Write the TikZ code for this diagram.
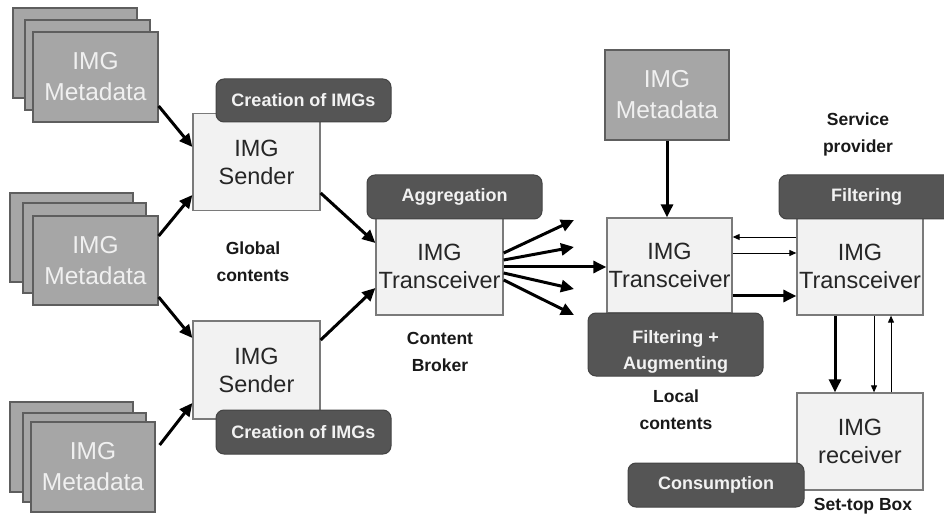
\documentclass[tikz,border=0pt]{standalone}
\usepackage{fontspec}
\setmainfont{Liberation Sans}
\usetikzlibrary{arrows.meta,calc}
\definecolor{metafill}{HTML}{A6A6A6}
\definecolor{metaline}{HTML}{5E5E5E}
\definecolor{boxfill}{HTML}{F2F2F2}
\definecolor{boxline}{HTML}{7A7A7A}
\definecolor{labfill}{HTML}{555555}
\tikzset{
  meta/.style={draw=metaline, fill=metafill, line width=1.3pt, inner sep=0pt,
    text=white!94!black, align=center, font=\fontsize{24.5}{31}\selectfont},
  imgbox/.style={draw=boxline, fill=boxfill, line width=1.3pt, inner sep=0pt,
    text=black!85, align=center, font=\fontsize{23.5}{28}\selectfont},
  lab/.style={draw=labfill!80!black, fill=labfill, rounded corners=8pt, line width=1pt,
    inner sep=0pt, text=white!95!black, align=center,
    font=\fontsize{18}{26}\selectfont\bfseries},
  note/.style={align=center, text=black!90, font=\fontsize{17.5}{27}\selectfont\bfseries},
  thick arrow/.style={line width=3pt, -{Triangle[length=13pt,width=12pt]}},
  thin arrow/.style={line width=0.9pt, -{Triangle[length=7pt,width=6pt]}},
}
\begin{document}
\begin{tikzpicture}[x=1pt,y=-1pt]
\useasboundingbox (0,0) rectangle (944,518);
\clip (0,0) rectangle (944,518);
\fill[white] (0,0) rectangle (944,518);
% metadata stacks
\node[meta, minimum width=124pt, minimum height=90pt] (m1a) at (75,53) {};
\node[meta, minimum width=125pt, minimum height=90pt] (m1b) at (87.5,65) {};
\node[meta, minimum width=125pt, minimum height=90pt] (m1c) at (95.5,77) {IMG\\Metadata};
\node[meta, minimum width=123pt, minimum height=89pt] (m2a) at (71.5,237.5) {};
\node[meta, minimum width=123pt, minimum height=90pt] (m2b) at (84.5,248) {};
\node[meta, minimum width=125pt, minimum height=89pt] (m2c) at (95.5,260.5) {IMG\\Metadata};
\node[meta, minimum width=123pt, minimum height=90pt] (m3a) at (71.5,447) {};
\node[meta, minimum width=123pt, minimum height=89pt] (m3b) at (84.5,457.5) {};
\node[meta, minimum width=124pt, minimum height=90pt] (m3c) at (93,467) {IMG\\Metadata};
\node[meta, minimum width=124pt, minimum height=90pt] (m4) at (667,95) {IMG\\Metadata};
% main boxes
\node[imgbox, minimum width=127pt, minimum height=97pt] (s1) at (256.5,162) {IMG\\Sender};
\node[imgbox, minimum width=127pt, minimum height=98pt] (s2) at (256.5,370) {IMG\\Sender};
\node[imgbox, minimum width=127pt, minimum height=97pt] (t1) at (439.5,266.5) {IMG\\Transceiver};
\node[imgbox, minimum width=125pt, minimum height=95pt] (t2) at (669.5,265.5) {IMG\\Transceiver};
\node[imgbox, minimum width=126pt, minimum height=97pt] (t3) at (860,266.5) {IMG\\Transceiver};
\node[imgbox, minimum width=126pt, minimum height=97pt] (rx) at (860,441.5) {IMG\\receiver};
% labels
\node[lab, minimum width=175pt, minimum height=43pt] (c1) at (303.5,100.5) {Creation of IMGs};
\node[lab, minimum width=175pt, minimum height=44pt] (c2) at (303.5,432) {Creation of IMGs};
\node[lab, minimum width=175pt, minimum height=44pt] (ag) at (454.5,197) {Aggregation};
\node[lab, minimum width=175pt, minimum height=63pt, text depth=0pt] (fa) at (675.5,344.5) {\raisebox{2.5pt}{\parbox{170pt}{\centering Filtering +\\Augmenting}}};
\node[lab, minimum width=175pt, minimum height=44pt] (fi) at (866.5,197) {Filtering};
\node[lab, minimum width=176pt, minimum height=44pt] (co) at (716,485) {Consumption};
% notes
\node[note] (gc) at (253,261.5) {Global\\contents};
\node[note] (cb) at (440,352) {Content\\Broker};
\node[note] (lc) at (676,410) {Local\\contents};
\node[note] (sp) at (858,134.5) {Service\\provider};
\node[note] (sb) at (863,506) {Set-top Box};
% arrows metadata -> senders
\draw[thick arrow] (m1c.east |- 0,106) -- (s1.west |- 0,147);
\draw[thick arrow] (m2c.east |- 0,236) -- (s1.west |- 0,195);
\draw[thick arrow] (m2c.east |- 0,297) -- (s2.west |- 0,338);
\draw[thick arrow] ([xshift=4pt]m3c.east |- 0,445) -- (s2.west |- 0,403);
% senders -> broker
\draw[thick arrow] (s1.east |- 0,193) -- (t1.west |- 0,243);
\draw[thick arrow] (s2.east |- 0,340) -- (t1.west |- 0,288);
% fan out
\coordinate (f1) at (574,220);
\coordinate (f2) at (574,247);
\coordinate (f4) at (574,289);
\coordinate (f5) at (574,315);
\draw[thick arrow] (t1.east |- 0,253) -- (f1);
\draw[thick arrow] (t1.east |- 0,260) -- (f2);
\draw[thick arrow] (t1.east |- 0,267) -- (t2.west |- 0,267);
\draw[thick arrow] (t1.east |- 0,273) -- (f4);
\draw[thick arrow] (t1.east |- 0,280) -- (f5);
% local metadata
\draw[thick arrow] (m4.south) -- (t2.north -| m4.south);
% T2 <-> T3
\draw[thin arrow] (t3.west |- 0,237) -- (t2.east |- 0,237);
\draw[thin arrow] (t2.east |- 0,253) -- (t3.west |- 0,253);
\draw[thick arrow] (t2.east |- 0,296) -- (t3.west |- 0,296);
% T3 <-> receiver
\draw[thick arrow] (t3.south -| 835,0) -- (rx.north -| 835,0);
\draw[thin arrow] (t3.south -| 874,0) -- (rx.north -| 874,0);
\draw[thin arrow] (rx.north -| 891,0) -- (t3.south -| 891,0);
\end{tikzpicture}
\end{document}
